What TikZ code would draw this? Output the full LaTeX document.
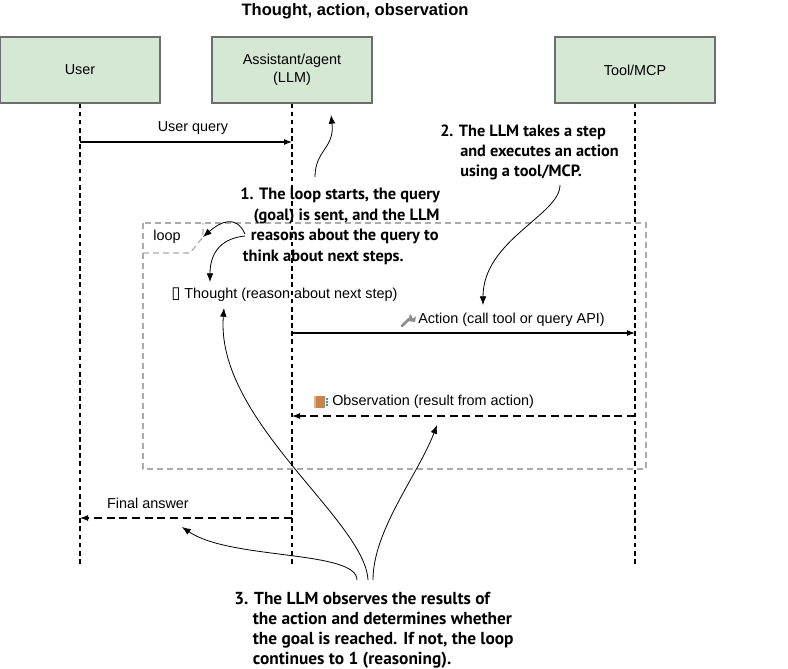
\documentclass[tikz,border=0pt]{standalone}
\usepackage{fontspec}
\setmainfont{Liberation Sans}
\newfontfamily\notefont{PT Sans}
\newfontfamily\symfont{DejaVu Sans}
\usetikzlibrary{arrows.meta}

\definecolor{boxfill}{HTML}{D5E8D4}
\definecolor{boxline}{HTML}{6E6E6E}
\definecolor{loopgray}{HTML}{ABABAB}
\definecolor{bookbrown}{HTML}{C8834B}
\definecolor{bookcyan}{HTML}{1BA1C4}
\definecolor{wrenchgray}{HTML}{8C8C8C}

\begin{document}
\begin{tikzpicture}[x=0.75pt, y=-0.75pt,
    actor/.style={draw=boxline, fill=boxfill, line width=0.8pt, minimum width=120pt, minimum height=49.5pt, font=\fontsize{10.8}{13.5}\selectfont, align=center},
    lifeline/.style={line width=0.9pt, dash pattern=on 3.5pt off 2.6pt},
    call/.style={line width=0.8pt, -{Latex[length=6pt,width=4.5pt]}},
    reply/.style={call, dash pattern=on 6pt off 3.5pt},
    label/.style={font=\fontsize{10.8}{13}\selectfont, inner sep=0pt},
    note/.style={align=left, inner sep=0pt},
    pointer/.style={line width=0.6pt, -{Latex[length=6.5pt,width=5pt]}}]

    \useasboundingbox (0,0) rectangle (788,668);

    % title
    \node[font=\bfseries\fontsize{12.4}{14}\selectfont] (title) at (355,11) {Thought, action, observation};

    % the three participants
    \node[actor] (user) at (80,70) {User};
    \node[actor] (agent) at (292,70) {Assistant/agent\\(LLM)};
    \node[actor] (tool) at (635,70) {Tool/MCP};

    % lifelines
    \coordinate (userEnd) at (user.south |- 0,567);
    \coordinate (agentEnd) at (agent.south |- 0,567);
    \coordinate (toolEnd) at (tool.south |- 0,567);
    \draw[lifeline] (user.south) -- (userEnd);
    \draw[lifeline] (agent.south) -- (agentEnd);
    \draw[lifeline] (tool.south) -- (toolEnd);

    % loop frame with its tab
    \draw[loopgray, line width=0.9pt, dash pattern=on 4.5pt off 3pt] (143,223) rectangle (646,469);
    \draw[loopgray, line width=0.9pt, dash pattern=on 4.5pt off 3pt] (143,253) -- (190,253) -- (203,237) -- (203,223);
    \node[label] (loop) at (167,237) {loop};

    % messages
    \coordinate (queryFrom) at (user.south |- 0,142);
    \coordinate (queryTo) at (agent.south |- 0,142);
    \draw[call] (queryFrom) -- (queryTo);
    \node[label] (queryText) at (193,128) {User query};

    \node[label, anchor=west] (thought) at (171,295) {{\symfont\fontsize{12.5}{13}\selectfont ▯} Thought (reason about next step)};

    \coordinate (actionFrom) at (agent.south |- 0,333);
    \coordinate (actionTo) at (tool.south |- 0,333);
    \draw[call] (actionFrom) -- (actionTo);
    \node[label, anchor=west] (actionText) at (418,320) {Action (call tool or query API)};
    % wrench icon
    \draw[wrenchgray, line width=2pt, line cap=round] (402,326) -- (409,319);
    \fill[wrenchgray] (408,321) -- (410,314) -- (412,316) -- (412,318) -- (414,318) -- (416,316) -- (415,322) -- cycle;

    \coordinate (obsFrom) at (tool.south |- 0,416);
    \coordinate (obsTo) at (agent.south |- 0,416);
    \draw[reply] (obsFrom) -- (obsTo);
    \node[label, anchor=west] (obsText) at (332,402) {Observation (result from action)};
    % book icon
    \fill[bookbrown] (314,396) rectangle (325,408);
    \fill[bookbrown!60!white] (314,396) rectangle (316,408);
    \foreach \yy in {399,402,405}
        \fill[bookcyan] (325.5,\yy-1) rectangle (328,\yy+1);

    \coordinate (finalFrom) at (agent.south |- 0,518);
    \coordinate (finalTo) at (user.south |- 0,518);
    \draw[reply] (finalFrom) -- (finalTo);
    \node[label] (finalText) at (148,503) {Final answer};

    % annotations
    \node[note, anchor=north west, font=\notefont\bfseries\fontsize{12.3}{15.3}\selectfont] (note1) at (240,188) {1. The loop starts, the query\\
        \hspace*{10pt}(goal) is sent, and the LLM\\
        \hspace*{8pt}reasons about the query to\\
        \hspace*{2pt}think about next steps.};
    \node[note, anchor=north west, font=\notefont\bfseries\fontsize{12.2}{15}\selectfont] (note2) at (440,125) {2. The LLM takes a step\\
        \hspace*{15pt}and executes an action\\
        \hspace*{15pt}using a tool/MCP.};
    \node[note, anchor=north west, font=\notefont\bfseries\fontsize{13}{15}\selectfont] (note3) at (234,592) {3. The LLM observes the results of\\
        \hspace*{14pt}the action and determines whether\\
        \hspace*{14pt}the goal is reached. If not, the loop\\
        \hspace*{14pt}continues to 1 (reasoning).};

    % pointers from the annotations
    \coordinate (p1a) at (315,177);  \coordinate (p1b) at (331,115);
    \coordinate (p2a) at (245,234);  \coordinate (p2b) at (203,237);
    \coordinate (p3a) at (245,236);  \coordinate (p3b) at (210,282);
    \coordinate (p4a) at (560,185);  \coordinate (p4b) at (483,305);
    \coordinate (p5a) at (357,580);  \coordinate (p5b) at (182,527);
    \coordinate (p6a) at (368,580);  \coordinate (p6b) at (224,308);
    \coordinate (p7a) at (373,580);  \coordinate (p7b) at (437,425);
    \draw[pointer] (p1a) .. controls (315,150) and (335,148) .. (p1b);
    \draw[pointer] (p2a) .. controls (236,214) and (220,222) .. (p2b);
    \draw[pointer] (p3a) .. controls (224,238) and (210,250) .. (p3b);
    \draw[pointer] (p4a) .. controls (560,215) and (483,240) .. (p4b);
    \draw[pointer] (p5a) .. controls (357,550) and (230,560) .. (p5b);
    \draw[pointer] (p6a) .. controls (365,520) and (215,420) .. (p6b);
    \draw[pointer] (p7a) .. controls (373,530) and (418,475) .. (p7b);

\end{tikzpicture}
\end{document}
